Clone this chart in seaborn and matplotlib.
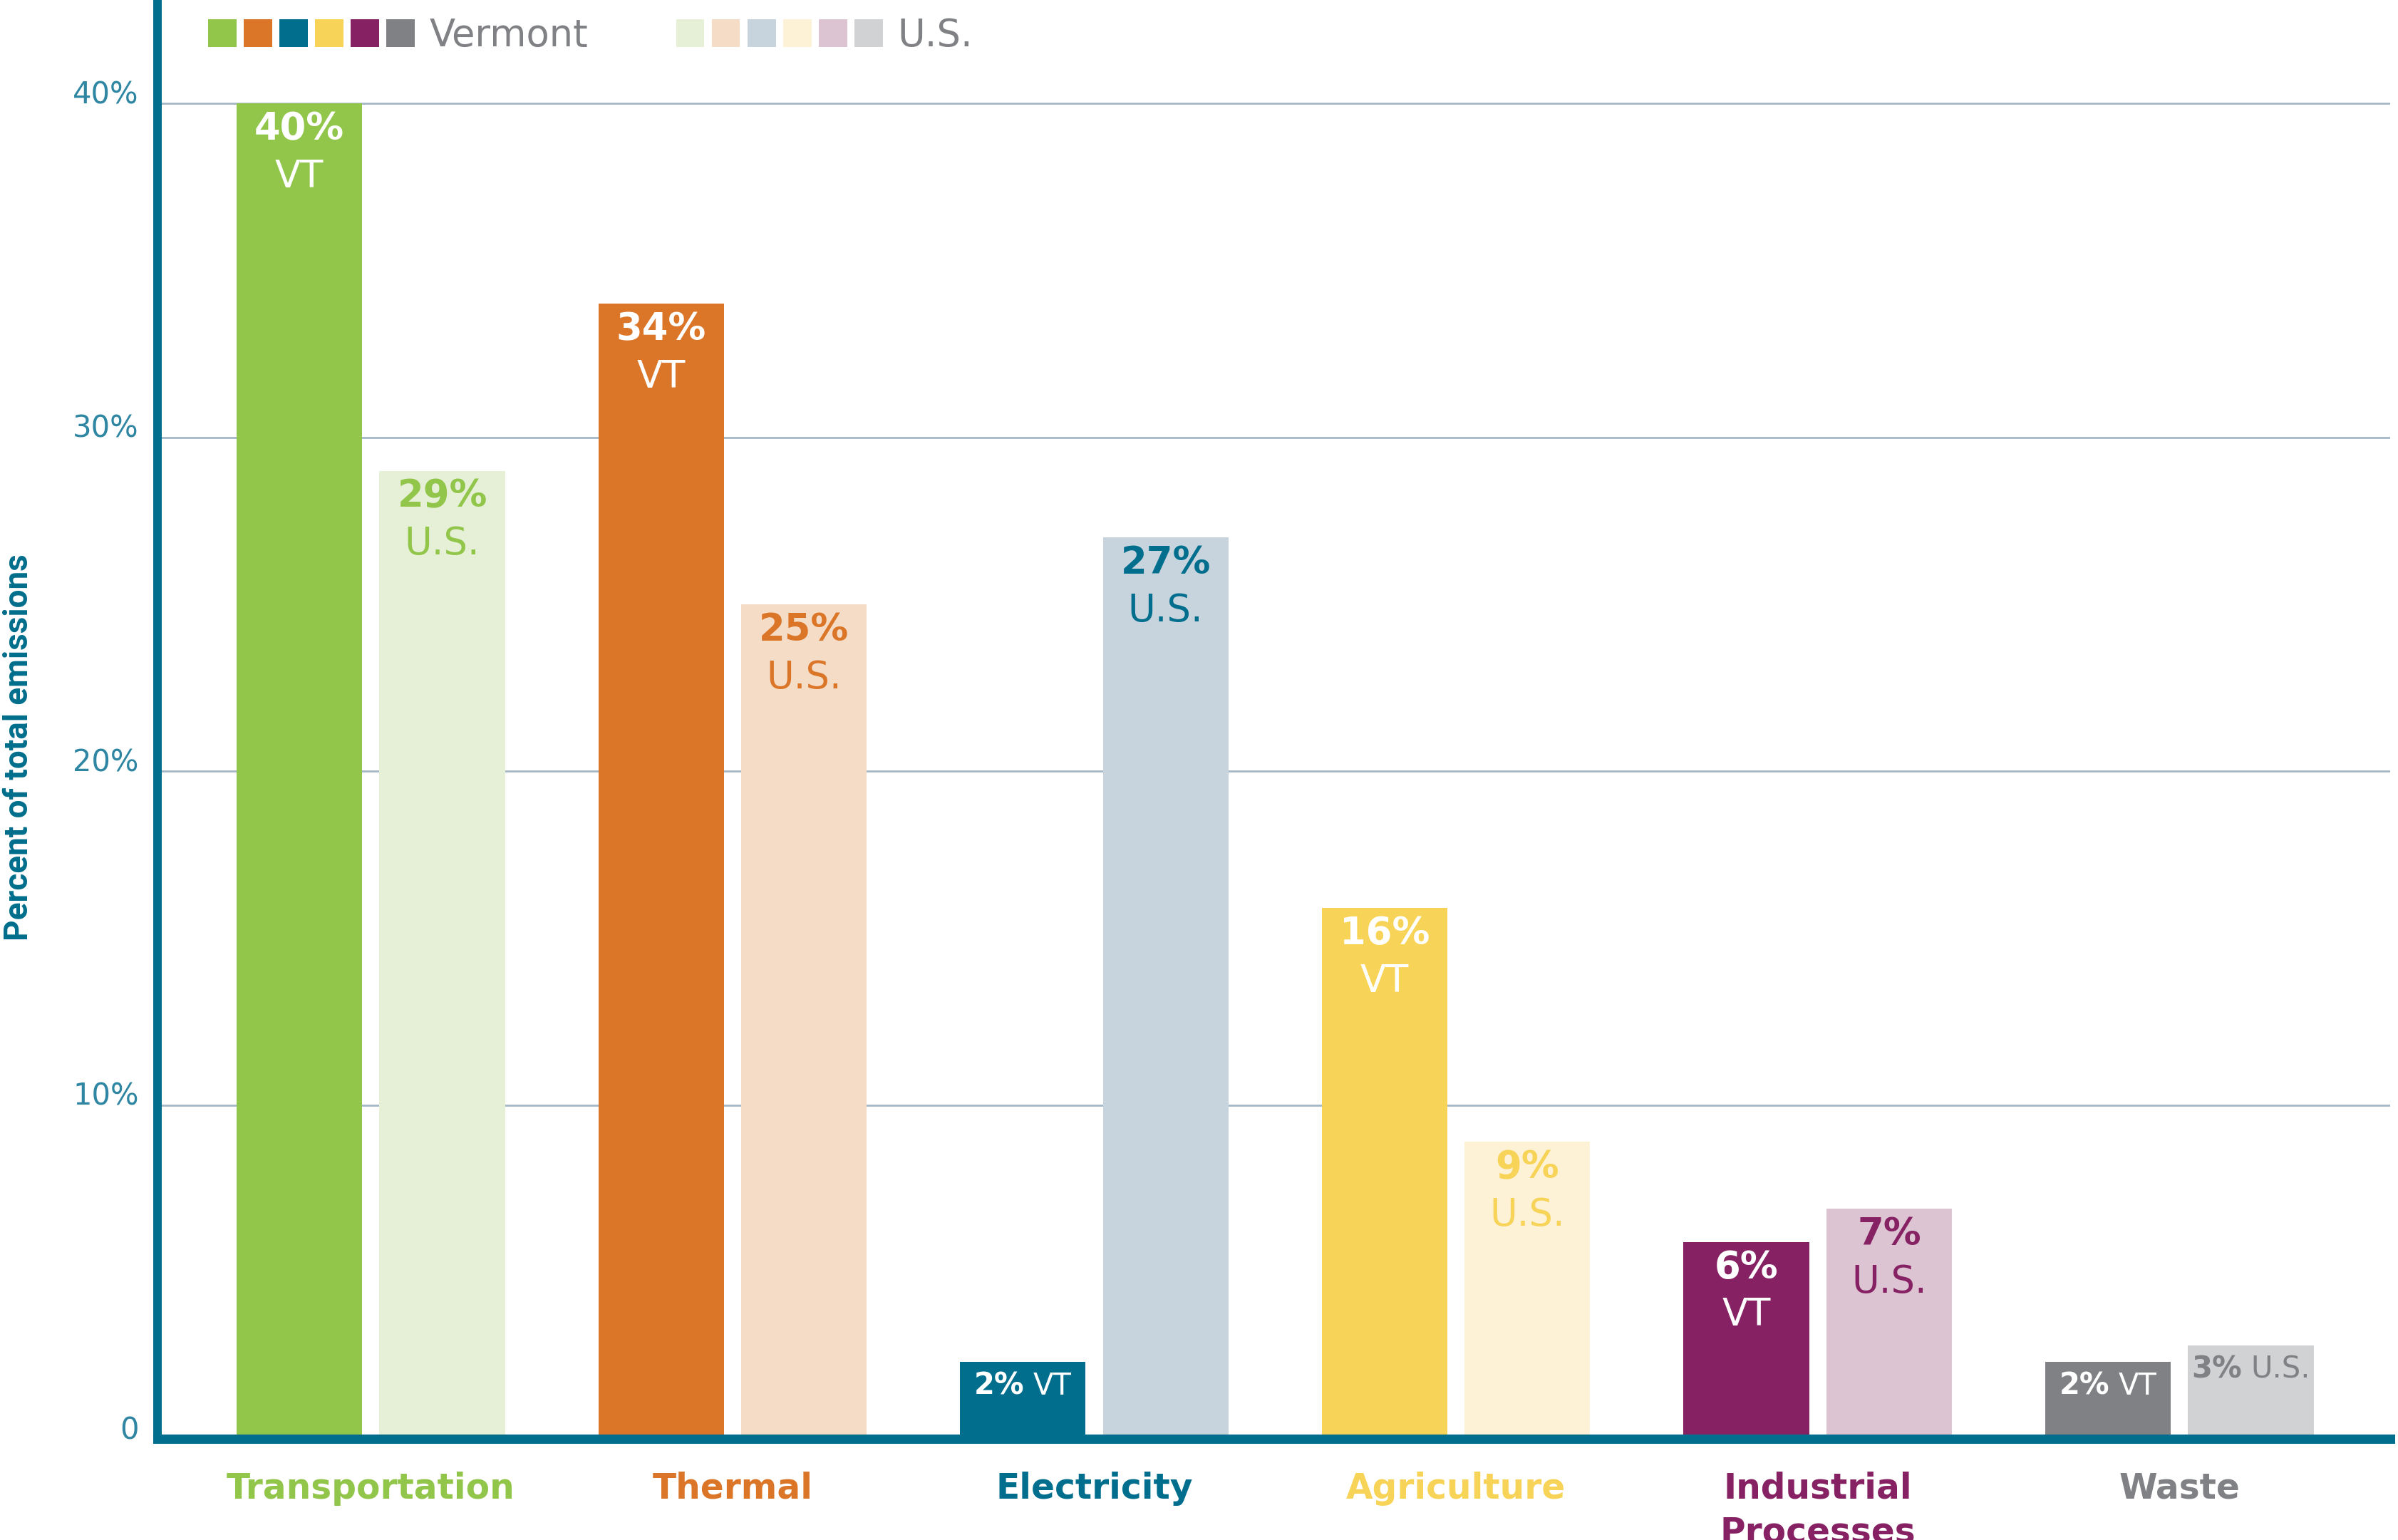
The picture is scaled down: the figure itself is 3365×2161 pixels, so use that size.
import numpy as np
import pandas as pd
import matplotlib
matplotlib.use("Agg")
import matplotlib.pyplot as plt
import seaborn as sns
from matplotlib.patches import Patch
from matplotlib.legend_handler import HandlerTuple
from matplotlib.offsetbox import TextArea, HPacker, AnnotationBbox

# === data ===
sectors = ["Transportation", "Thermal", "Electricity", "Agriculture",
           "Industrial\nProcesses", "Waste"]
vt_pct = [40, 34, 2.3, 15.9, 5.9, 2.3]
us_pct = [29, 25, 27, 8.9, 6.9, 2.8]
vt_labels = ["40%", "34%", "2%", "16%", "6%", "2%"]
us_labels = ["29%", "25%", "27%", "9%", "7%", "3%"]
y_ticks = [0, 10, 20, 30, 40]
y_ticklabels = ["0", "10%", "20%", "30%", "40%"]

vt_colors = ["#92c64b", "#db7629", "#006e8c", "#f7d457", "#862163", "#808184"]
us_colors = ["#e6f0d6", "#f5dcc7", "#c7d4dd", "#fdf1d6", "#dcc4d2", "#d1d2d4"]
teal = "#006e8c"
gray = "#808184"

df = pd.DataFrame({
    "sector": sectors * 2,
    "region": ["VT"] * len(sectors) + ["U.S."] * len(sectors),
    "pct": vt_pct + us_pct,
})

sns.set_style("white")
plt.rcParams["font.family"] = ["DejaVu Sans"]

W, H = 3365, 2161
fig = plt.figure(figsize=(W / 100, H / 100), dpi=100)
ax = fig.add_axes([221 / W, 1 - 2019 / H, (3354 - 221) / W, 2019 / H])

sns.barplot(data=df, x="sector", y="pct", hue="region", hue_order=["VT", "U.S."],
            width=0.79, gap=0.12, saturation=1, errorbar=None, legend=False, ax=ax)

for bars, cols in zip(ax.containers, [vt_colors, us_colors]):
    for bar, c in zip(bars, cols):
        bar.set_facecolor(c)
        bar.set_edgecolor("none")

ax.set_xlim(-0.59, 5.583)
ax.set_ylim(0, 43.1)

# --- axes styling ---
for s in ["top", "right"]:
    ax.spines[s].set_visible(False)
ax.spines["left"].set(color=teal, linewidth=8.6)
ax.spines["bottom"].set(color=teal, linewidth=9.4)
ax.yaxis.grid(True, color="#a3b7c7", linewidth=2)
ax.set_axisbelow(True)

ax.set_yticks(y_ticks)
ax.set_yticklabels(y_ticklabels, fontsize=30, color="#2e86a3")
for lab in ax.get_yticklabels():
    lab.set_va("baseline")
ax.tick_params(axis="y", length=0, pad=19)

ax.set_xlabel("")
ax.set_ylabel("")
ax.set_xticks(range(len(sectors)))
ax.set_xticklabels(sectors, fontsize=35, fontweight="bold", linespacing=1.35)
for lab, c in zip(ax.get_xticklabels(), vt_colors):
    lab.set_color(c)
ax.tick_params(axis="x", length=0, pad=33)

fig.text(26 / W, 1 - 1049 / H, "Percent of total emissions", rotation=90,
         ha="center", va="center", color=teal, fontsize=33, fontweight="bold",
         family=["Roboto", "DejaVu Sans"])

# --- labels inside the bars ---
def label_bar(bar, pct, tag, color):
    x = bar.get_x() + bar.get_width() / 2
    top = bar.get_height()
    if top < 4:
        box = HPacker(children=[
            TextArea(pct, textprops=dict(color=color, fontsize=30, fontweight="bold")),
            TextArea(tag, textprops=dict(color=color, fontsize=30)),
        ], pad=0, sep=9, align="baseline")
        ab = AnnotationBbox(box, (x, top), xybox=(0, -24), boxcoords="offset points",
                            frameon=False, box_alignment=(0.5, 0.5))
        ax.add_artist(ab)
    else:
        ax.annotate(pct, (x, top), xytext=(0, -26), textcoords="offset points",
                    ha="center", va="center", fontsize=38, fontweight="bold", color=color)
        ax.annotate(tag, (x, top), xytext=(0, -74), textcoords="offset points",
                    ha="center", va="center", fontsize=38, color=color)

for bar, pct in zip(ax.containers[0], vt_labels):
    label_bar(bar, pct, "VT", "white")
for bar, pct, c in zip(ax.containers[1], us_labels, vt_colors):
    label_bar(bar, pct, "U.S.", c)

# --- legend: six swatches per region ---
vt_handle = tuple(Patch(facecolor=c, edgecolor="none") for c in vt_colors)
us_handle = tuple(Patch(facecolor=c, edgecolor="none") for c in us_colors)
leg = ax.legend(handles=[vt_handle, us_handle], labels=["Vermont", "U.S."],
                handler_map={tuple: HandlerTuple(ndivide=None, pad=0.195)},
                ncol=2, frameon=False, fontsize=38, labelcolor=gray,
                handlelength=5.5, handleheight=0.78, handletextpad=0.39,
                columnspacing=2.33, loc="upper left",
                bbox_to_anchor=(292 / W, 1 - 24 / H), bbox_transform=fig.transFigure,
                borderpad=0, borderaxespad=0)

fig.savefig("out.png", dpi=100)
